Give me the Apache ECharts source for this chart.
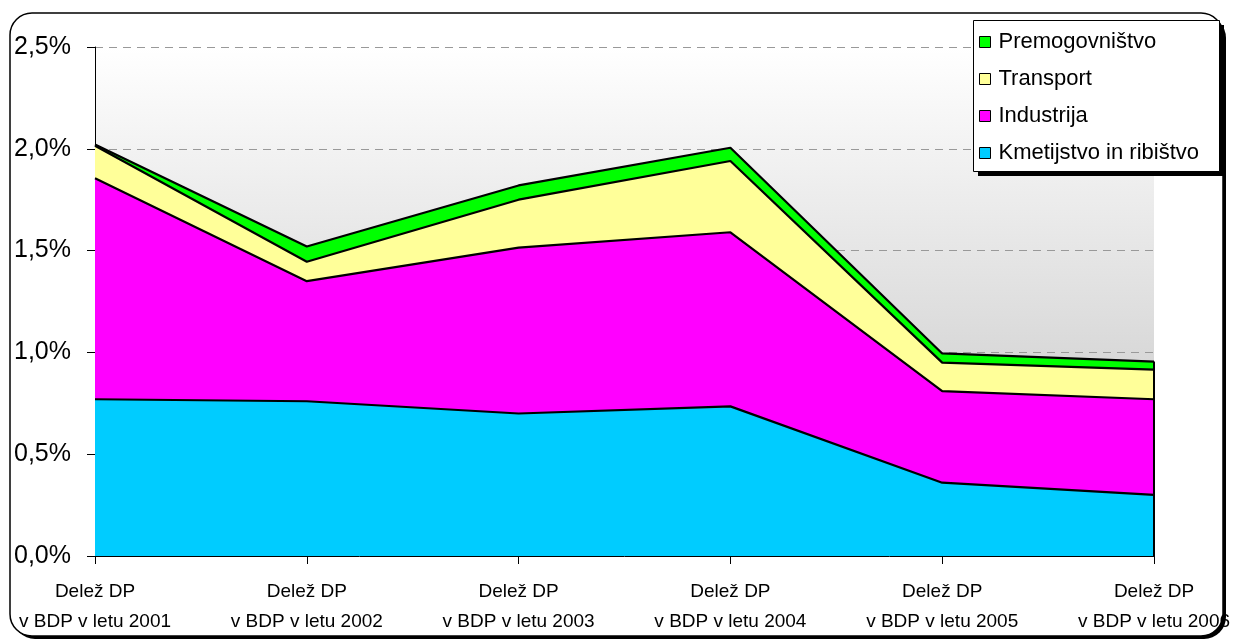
<!DOCTYPE html>
<html>
<head>
<meta charset="utf-8">
<script src="https://cdn.jsdelivr.net/npm/echarts@6/dist/echarts.min.js"></script>
<style>
  html, body { margin: 0; padding: 0; background: #fff; }
  #chart { width: 1233px; height: 644px; }
</style>
</head>
<body>
<div id="chart"></div>
<script>
// kategorije (leta)
var categories = [
  'Delež DP\nv BDP v letu 2001',
  'Delež DP\nv BDP v letu 2002',
  'Delež DP\nv BDP v letu 2003',
  'Delež DP\nv BDP v letu 2004',
  'Delež DP\nv BDP v letu 2005',
  'Delež DP\nv BDP v letu 2006'
];
// deleži v % BDP, odčitani s slike
var kmetijstvo = [0.77, 0.76, 0.70, 0.735, 0.36, 0.30];
var industrija = [1.085, 0.59, 0.815, 0.855, 0.45, 0.47];
var transport = [0.16, 0.095, 0.235, 0.35, 0.14, 0.145];
var premogovnistvo = [0.006, 0.075, 0.07, 0.065, 0.045, 0.04];
var yTicks = [0, 0.5, 1.0, 1.5, 2.0, 2.5];

var font = 'Liberation Sans, Arial, sans-serif';
var last = categories.length - 1;
var total = kmetijstvo[last] + industrija[last] + transport[last] + premogovnistvo[last];

function area(name, data, color) {
  return {
    name: name,
    type: 'line',
    stack: 'dp',
    data: data,
    symbol: 'none',
    itemStyle: { color: color },
    lineStyle: { color: '#000', width: 2.2 },
    areaStyle: { color: color, opacity: 1 },
    emphasis: { disabled: true }
  };
}

var myChart = echarts.init(document.getElementById('chart'));

var series = [
  area('Kmetijstvo in ribištvo', kmetijstvo, '#00ccff'),
  area('Industrija', industrija, '#ff00ff'),
  area('Transport', transport, '#ffff99'),
  area('Premogovništvo', premogovnistvo, '#00ff00')
];
// desni rob zadnje kategorije
series[3].markLine = {
  silent: true,
  symbol: 'none',
  label: { show: false },
  lineStyle: { color: '#000', width: 2, type: 'solid' },
  data: [[{ coord: [last, 0] }, { coord: [last, total] }]]
};

var option = {
  backgroundColor: '#fff',
  animation: false,
  graphic: [{
    // senca zunanjega okvirja
    type: 'rect',
    z: -20,
    shape: { x: 13, y: 16, width: 1213, height: 623, r: 22 },
    style: { fill: '#000' }
  }, {
    type: 'rect',
    z: -10,
    shape: { x: 10, y: 13, width: 1213, height: 623, r: 22 },
    style: { fill: '#fff', stroke: '#000', lineWidth: 1.5 }
  }, {
    // okvir legende s senco
    type: 'rect',
    z: 49,
    shape: { x: 978, y: 25, width: 246, height: 151 },
    style: { fill: '#000' }
  }, {
    type: 'rect',
    z: 50,
    shape: { x: 973.5, y: 20.5, width: 246, height: 151 },
    style: { fill: '#fff', stroke: '#000', lineWidth: 1 }
  }],
  grid: {
    left: 95, right: 79, top: 47, bottom: 88,
    outerBoundsMode: 'none',
    show: true,
    borderWidth: 0,
    backgroundColor: {
      type: 'linear', x: 0, y: 0, x2: 0, y2: 1,
      colorStops: [{ offset: 0, color: '#ffffff' }, { offset: 1, color: '#c0c0c0' }]
    }
  },
  legend: {
    data: ['Premogovništvo', 'Transport', 'Industrija', 'Kmetijstvo in ribištvo'],
    orient: 'vertical',
    left: 973, top: 20,
    z: 60,
    padding: [11, 8, 8, 6],
    itemGap: 15,
    itemWidth: 11, itemHeight: 11,
    icon: 'rect',
    itemStyle: { borderColor: '#000', borderWidth: 1 },
    textStyle: { fontFamily: font, fontSize: 22, color: '#000', padding: [0, 0, 0, 3] }
  },
  xAxis: {
    type: 'category',
    boundaryGap: false,
    data: categories,
    axisLine: { lineStyle: { color: '#000', width: 1 } },
    axisTick: { show: true, length: 8, lineStyle: { color: '#000' } },
    axisLabel: {
      interval: 0, margin: 21, color: '#000',
      fontFamily: font, fontSize: 19, lineHeight: 30
    },
    splitLine: { show: false }
  },
  yAxis: {
    type: 'value',
    min: yTicks[0], max: yTicks[yTicks.length - 1], interval: 0.5,
    axisLine: { show: true, lineStyle: { color: '#000', width: 1 } },
    axisTick: { show: true, length: 8, lineStyle: { color: '#000' } },
    axisLabel: {
      margin: 24, color: '#000', fontFamily: font, fontSize: 25,
      formatter: function (v) { return v.toFixed(1).replace('.', ',') + '%'; }
    },
    splitLine: { show: true, lineStyle: { color: '#999', type: [8, 6], width: 1 } }
  },
  series: series
};

myChart.setOption(option);
</script>
</body>
</html>
